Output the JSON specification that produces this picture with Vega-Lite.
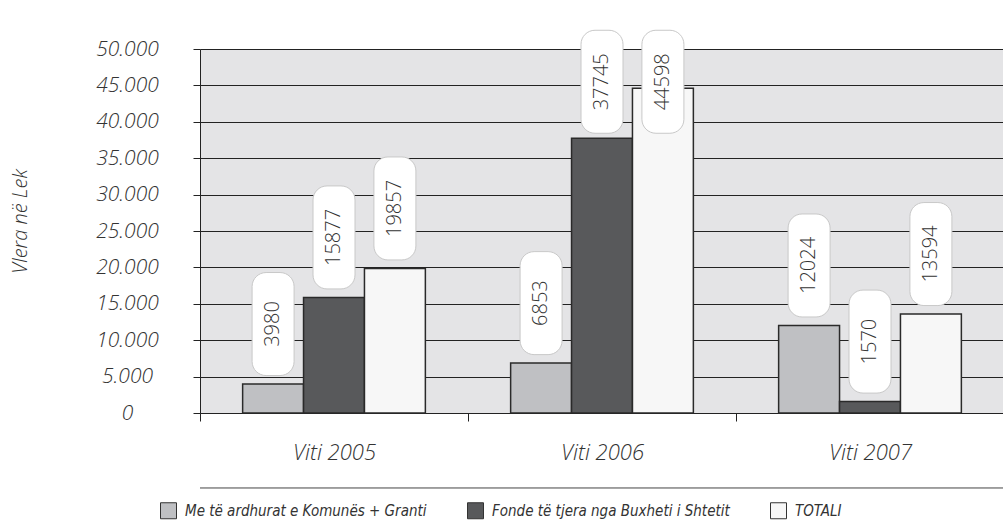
{
  "$schema": "https://vega.github.io/schema/vega-lite/v6.json",
  "autosize": "none",
  "width": 804,
  "height": 364,
  "padding": {"left": 200, "top": 49, "right": 0, "bottom": 111},
  "background": "white",
  "config": {
    "view": {"fill": "#e4e4e6", "stroke": null},
    "font": "Open Sans"
  },
  "data": {
    "values": [
      {"year": "Viti 2005", "series": "Me të ardhurat e Komunës + Granti", "value": 3980},
      {"year": "Viti 2005", "series": "Fonde të tjera nga Buxheti i Shtetit", "value": 15877},
      {"year": "Viti 2005", "series": "TOTALI", "value": 19857},
      {"year": "Viti 2006", "series": "Me të ardhurat e Komunës + Granti", "value": 6853},
      {"year": "Viti 2006", "series": "Fonde të tjera nga Buxheti i Shtetit", "value": 37745},
      {"year": "Viti 2006", "series": "TOTALI", "value": 44598},
      {"year": "Viti 2007", "series": "Me të ardhurat e Komunës + Granti", "value": 12024},
      {"year": "Viti 2007", "series": "Fonde të tjera nga Buxheti i Shtetit", "value": 1570},
      {"year": "Viti 2007", "series": "TOTALI", "value": 13594}
    ]
  },
  "transform": [
    {"calculate": "min(datum.value + 8240, 45500)", "as": "labelPos"},
    {"calculate": "datum.labelPos - 7074", "as": "boxLo"},
    {"calculate": "datum.labelPos + 7074", "as": "boxHi"}
  ],
  "resolve": {"axis": {"y": "independent"}, "scale": {"y": "shared"}},
  "layer": [
    {
      "mark": {"type": "bar", "stroke": "#2a2a2a", "strokeWidth": 1.5},
      "encoding": {
        "x": {
          "field": "year", "type": "nominal",
          "scale": {"paddingInner": 0, "paddingOuter": 0},
          "axis": {
            "title": null, "labelAngle": 0, "domain": true, "domainColor": "#222222",
            "ticks": true, "tickBand": "extent", "tickSize": 8, "tickColor": "#222222",
            "labelPadding": 21, "labelFont": "Open Sans", "labelFontSize": 22,
            "labelFontStyle": "italic", "labelFontWeight": 300, "labelColor": "#333333",
            "grid": false
          }
        },
        "xOffset": {
          "field": "series", "type": "nominal",
          "sort": ["Me të ardhurat e Komunës + Granti", "Fonde të tjera nga Buxheti i Shtetit", "TOTALI"],
          "scale": {"paddingInner": 0, "paddingOuter": 0.7}
        },
        "y": {
          "field": "value", "type": "quantitative",
          "scale": {"domain": [0, 50000], "nice": false},
          "axis": {
            "title": "Vlera në Lek",
            "values": [0, 5000, 10000, 15000, 20000, 25000, 30000, 35000, 40000, 45000, 50000],
            "labelExpr": "datum.value == 0 ? '0' : replace(format(datum.value, ','), ',', '.')",
            "labelOverlap": false,
            "labelAlign": "center", "labelPadding": 66, "tickSize": 7, "tickColor": "#222222",
            "domain": true, "domainColor": "#222222",
            "grid": true, "gridColor": "#222222", "gridWidth": 1, "gridOpacity": 1,
            "labelFont": "Open Sans", "labelFontSize": 21, "labelFontStyle": "italic",
            "labelFontWeight": 300, "labelColor": "#333333",
            "titleFont": "Open Sans", "titleFontSize": 20, "titleFontStyle": "italic",
            "titleFontWeight": 300, "titleColor": "#333333",
            "titleAngle": -90, "titleX": -180, "titleY": 172, "titleAlign": "center", "titleBaseline": "middle"
          }
        },
        "color": {
          "field": "series", "type": "nominal",
          "sort": ["Me të ardhurat e Komunës + Granti", "Fonde të tjera nga Buxheti i Shtetit", "TOTALI"],
          "scale": {"range": ["#bfc0c3", "#58595b", "#f7f7f7"]},
          "legend": {
            "title": null, "orient": "none", "legendX": -40, "legendY": 453,
            "direction": "horizontal", "symbolType": "square", "symbolSize": 256,
            "symbolStrokeColor": "#333333", "symbolStrokeWidth": 1,
            "labelFont": "'DejaVu Sans Condensed', 'Liberation Sans Narrow', Roboto", "labelFontSize": 15, "labelFontStyle": "italic",
            "labelFontWeight": 300,
            "labelColor": "#333333", "labelOffset": 8, "columnPadding": 38, "labelLimit": 400
          }
        }
      }
    },
    {
      "mark": {"type": "bar", "width": 42, "fill": "white", "stroke": "#c8c8c8", "strokeWidth": 1, "cornerRadius": 14},
      "encoding": {
        "x": {"field": "year", "type": "nominal"},
        "xOffset": {"field": "series", "type": "nominal", "sort": ["Me të ardhurat e Komunës + Granti", "Fonde të tjera nga Buxheti i Shtetit", "TOTALI"]},
        "y": {"field": "boxLo", "type": "quantitative", "axis": null},
        "y2": {"field": "boxHi"}
      }
    },
    {
      "mark": {"type": "text", "angle": 270, "align": "center", "baseline": "middle", "fontSize": 20, "font": "Open Sans", "fontWeight": 300, "color": "#333333"},
      "encoding": {
        "x": {"field": "year", "type": "nominal"},
        "xOffset": {"field": "series", "type": "nominal", "sort": ["Me të ardhurat e Komunës + Granti", "Fonde të tjera nga Buxheti i Shtetit", "TOTALI"]},
        "y": {"field": "labelPos", "type": "quantitative", "axis": null},
        "text": {"field": "value", "type": "quantitative", "format": "d"}
      }
    },
    {
      "data": {"values": [{"line": 1}]},
      "mark": {"type": "rule", "color": "#444444", "strokeWidth": 1},
      "encoding": {
        "y": {"datum": -10300, "type": "quantitative", "axis": null}
      }
    }
  ]
}
